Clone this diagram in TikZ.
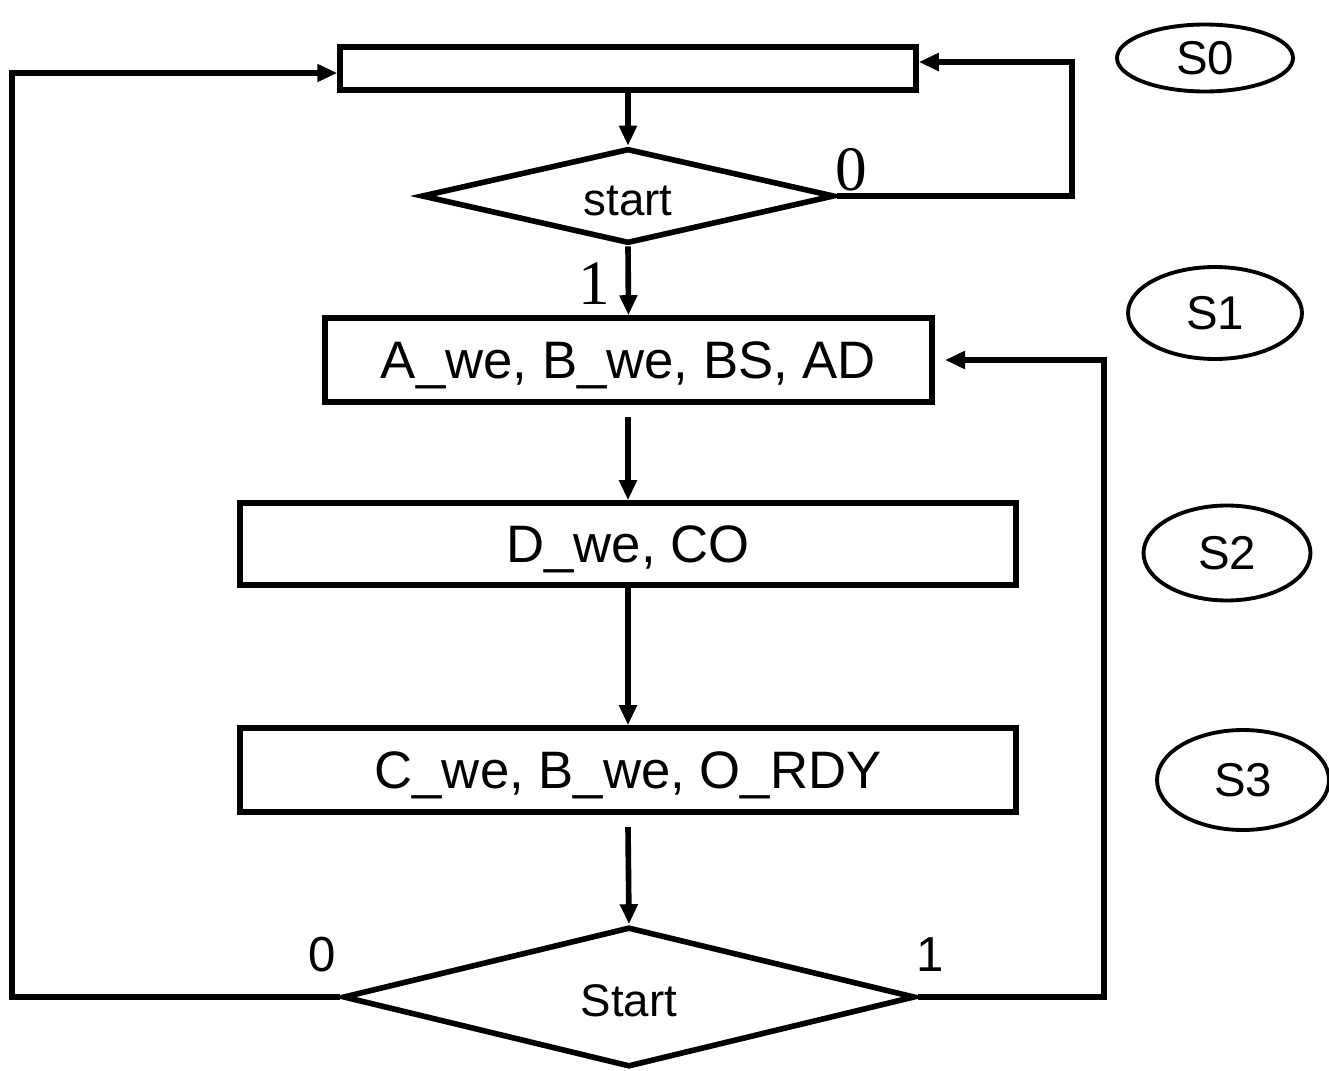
\documentclass[tikz,border=0pt]{standalone}
\usepackage{fontspec}
\setmainfont{Liberation Sans}
\newfontfamily\serifnum{Liberation Serif}
\usetikzlibrary{shapes,positioning,arrows.meta}

\begin{document}
\begin{tikzpicture}[x=0.02cm,y=-0.02cm,line width=3.2pt,
    font=\fontsize{30}{36}\selectfont,
    block/.style={draw,rectangle,inner sep=0,text height=21pt,text depth=0.4pt},
    cond/.style={draw,diamond,inner sep=0,aspect=4.2,text height=23pt,text depth=0.4pt,
        font=\fontsize{26}{30}\selectfont},
    state/.style={draw,ellipse,inner sep=0,line width=2.2pt,
        font=\fontsize{27}{30}\selectfont},
    arr/.style={-{Triangle[length=4mm,width=3.4mm]}}]
\useasboundingbox (0,0) rectangle (1329,1071);

% Blocks
\node[block,minimum width=11.52cm,minimum height=0.86cm] (block0) at (628,68.5) {};

\node[cond,
    minimum width=8.26cm,minimum height=1.9cm] (cond0) at (628,196) {start};

\node[block,
    minimum width=12.14cm,minimum height=1.68cm] (block1) at (628.5,360) {A\_we, B\_we, BS, AD};

\node[block,
    minimum width=15.52cm,minimum height=1.64cm] (block2) at (628,544) {D\_we, CO};

\node[block,
    minimum width=15.52cm,minimum height=1.68cm] (block3) at (628,770) {C\_we, B\_we, O\_RDY};

% Conditions test
\node[cond,
    minimum width=11.44cm,minimum height=2.8cm] (cond1) at (629,997) {Start};

% States
\node[state,minimum width=3.52cm,minimum height=1.34cm] (s0) at (1205,58) {S0};
\node[state,minimum width=3.48cm,minimum height=1.84cm] (s1) at (1215,313) {S1};
\node[state,minimum width=3.34cm,minimum height=1.9cm] (s2) at (1227,553) {S2};
\node[state,minimum width=3.44cm,minimum height=2.0cm] (s3) at (1243,780) {S3};

% Branch labels
\node[font=\serifnum\fontsize{36}{40}\selectfont] (lab0) at (851,170) {0};
\node[font=\serifnum\fontsize{36}{40}\selectfont] (lab1) at (594,284) {1};
\node[font=\fontsize{28}{32}\selectfont] (lab2) at (322,955) {0};
\node[font=\fontsize{28}{32}\selectfont] (lab3) at (930,955) {1};

% Free ends
\coordinate (r0) at (1072,62);
\coordinate (l0) at (12,73);
\coordinate (r1) at (1104,360);
\coordinate (r1e) at (945,360);
\coordinate (b1s) at (628,417);
\coordinate (b3s) at (628,827);

% Arrows
\draw[arr] (block0.south) -- (cond0.north);
\draw[arr] (cond0.south) -- (block1.north);
\draw[arr] (b1s) -- (block2.north);
\draw[arr] (block2.south) -- (block3.north);
\draw[arr] (b3s) -- (cond1.north);
\draw[arr] (cond0.east) -| (r0) -- (r0 -| block0.east);
\draw[arr] (cond1.west) -| (l0) -- (l0 -| block0.west);
\draw[arr] (cond1.east) -| (r1) -- (r1e);

\end{tikzpicture}
\end{document}
